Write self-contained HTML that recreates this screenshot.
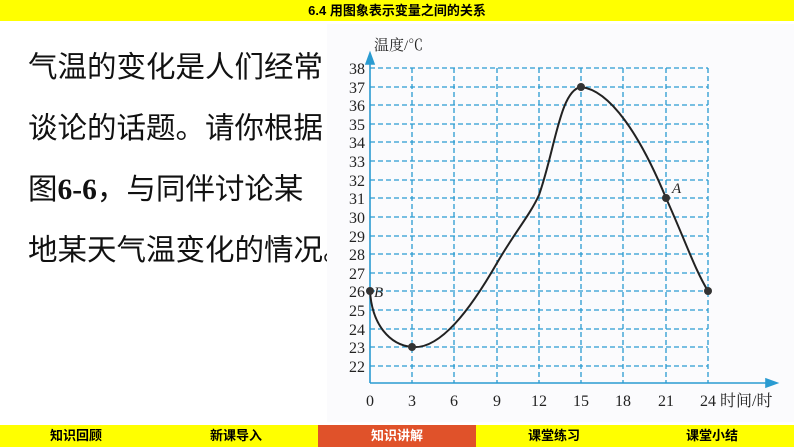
<!DOCTYPE html>
<html><head><meta charset="utf-8"><style>
body{margin:0;width:794px;height:447px;overflow:hidden;background:#fff;position:relative;font-family:"Liberation Sans","Noto Sans CJK SC",sans-serif}
.top{position:absolute;left:0;top:0;width:794px;height:21px;background:#ffff00;font-size:13px;font-weight:bold;text-align:center;line-height:21px}
.t{position:absolute;left:28px;font-size:29.5px;white-space:nowrap;font-family:"Liberation Sans","Noto Sans CJK SC",sans-serif;color:#111;line-height:40px}
.bot{position:absolute;top:425px;height:22px;background:#ffff00;font-size:13px;font-weight:bold;text-align:center;line-height:22px}
</style></head><body>
<div class="top">6.4 用图象表示变量之间的关系</div>
<div class="t" style="top:48px">气温的变化是人们经常</div>
<div class="t" style="top:109px">谈论的话题。请你根据</div>
<div class="t" style="top:170px">图<b style="font-family:'Liberation Serif',serif">6-6</b>，与同伴讨论某</div>
<div class="t" style="top:231px">地某天气温变化的情况。</div>
<svg style="position:absolute;left:0;top:0" width="794" height="447">
<rect x="327" y="24" width="467" height="398" fill="#fbfbfd"/>
<g stroke="#2a9bd1" stroke-width="1.3" stroke-dasharray="5,3" fill="none">
<path d="M370 68H708M370 87H708M370 105H708M370 124H708M370 142H708M370 161H708M370 180H708M370 198H708M370 217H708M370 236H708M370 254H708M370 273H708M370 291H708M370 310H708M370 329H708M370 347H708M370 366H708"/>
<path d="M412 68V383M454 68V383M497 68V383M539 68V383M581 68V383M623 68V383M666 68V383M708 68V383"/>
</g>
<g stroke="#2a9bd1" stroke-width="1.6" fill="#2a9bd1">
<line x1="370" y1="383" x2="770" y2="383"/><line x1="370" y1="383" x2="370" y2="60"/>
<path d="M366 64L370 53L374 64Z"/><path d="M766 379L777 383L766 387Z"/>
</g>
<path d="M370 291C372 325 390 345 412 347C440 350 470 310 497 263C515 232 530 215 539 195C555 150 560 90 581 87C610 90 640 135 666 198C685 240 695 270 708 291" fill="none" stroke="#222" stroke-width="2"/>
<g fill="#333"><circle cx="370" cy="291" r="4"/><circle cx="412" cy="347" r="4"/><circle cx="581" cy="87" r="4"/><circle cx="666" cy="198" r="4"/><circle cx="708" cy="291" r="4"/></g>
<g font-family="Liberation Serif,serif" font-size="16" fill="#222" text-anchor="end">
<text x="365" y="74">38</text><text x="365" y="93">37</text><text x="365" y="111">36</text><text x="365" y="130">35</text><text x="365" y="148">34</text><text x="365" y="167">33</text><text x="365" y="186">32</text><text x="365" y="204">31</text><text x="365" y="223">30</text><text x="365" y="242">29</text><text x="365" y="260">28</text><text x="365" y="279">27</text><text x="365" y="297">26</text><text x="365" y="316">25</text><text x="365" y="335">24</text><text x="365" y="353">23</text><text x="365" y="372">22</text>
</g>
<g font-family="Liberation Serif,serif" font-size="16" fill="#222" text-anchor="middle">
<text x="370" y="406">0</text><text x="412" y="406">3</text><text x="454" y="406">6</text><text x="497" y="406">9</text><text x="539" y="406">12</text><text x="581" y="406">15</text><text x="623" y="406">18</text><text x="666" y="406">21</text><text x="708" y="406">24</text>
</g>
<text x="720" y="406" font-family="Liberation Serif,'Noto Serif CJK SC',serif" font-size="16" fill="#222">时间/时</text>
<text x="374" y="50" font-family="Liberation Serif,'Noto Serif CJK SC',serif" font-size="15" fill="#222">温度/℃</text>
<text x="374" y="297" font-family="Liberation Serif,serif" font-style="italic" font-size="15" fill="#222">B</text>
<text x="672" y="193" font-family="Liberation Serif,serif" font-style="italic" font-size="15" fill="#222">A</text>
</svg>
<div class="bot" style="left:0;width:318px">
<span style="position:absolute;left:50px">知识回顾</span><span style="position:absolute;left:210px">新课导入</span></div>
<div class="bot" style="left:318px;width:158px;background:#e0522a;color:#fff">知识讲解</div>
<div class="bot" style="left:476px;width:318px"><span style="position:absolute;left:52px">课堂练习</span><span style="position:absolute;left:210px">课堂小结</span></div>
</body></html>
